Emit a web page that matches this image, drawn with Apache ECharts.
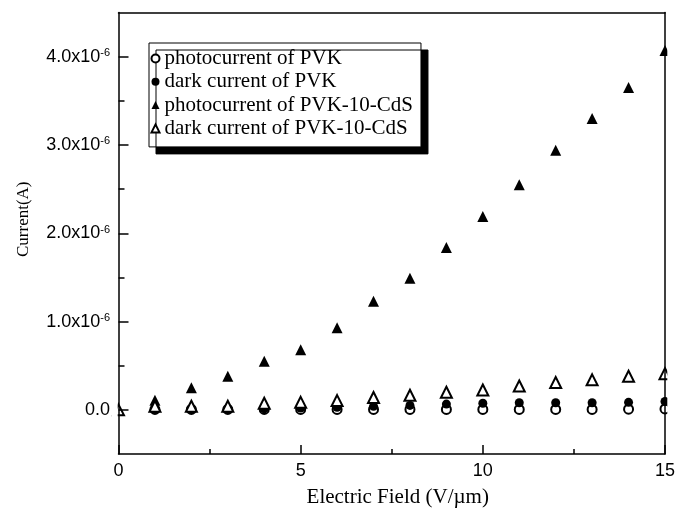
<!DOCTYPE html>
<html>
<head>
<meta charset="utf-8">
<script src="https://cdn.jsdelivr.net/npm/echarts@6/dist/echarts.min.js"></script>
<style>
  html, body { margin: 0; padding: 0; background: #fff; }
  #chart { width: 678px; height: 513px; }
</style>
</head>
<body>
<div id="chart"></div>
<script>
// Electric field (V/µm) at each measurement step
const fieldVm = [0, 1, 2, 3, 4, 5, 6, 7, 8, 9, 10, 11, 12, 13, 14, 15];

// Currents in units of 1e-6 A (null = not measured)
const photoPVK = [null, 0.005, 0.005, 0.005, 0.005, 0.005, 0.005, 0.005, 0.005, 0.005, 0.005, 0.005, 0.005, 0.005, 0.008, 0.01];
const darkPVK = [null, 0.01, 0.01, 0.01, 0.012, 0.02, 0.03, 0.04, 0.05, 0.065, 0.075, 0.08, 0.08, 0.08, 0.085, 0.095];
const photoCdS = [null, 0.11, 0.25, 0.38, 0.55, 0.68, 0.93, 1.23, 1.49, 1.84, 2.19, 2.55, 2.94, 3.30, 3.65, 4.07];
const darkCdS = [0.0, 0.04, 0.04, 0.04, 0.075, 0.085, 0.105, 0.14, 0.165, 0.2, 0.225, 0.27, 0.31, 0.34, 0.38, 0.41];

const seriesNames = [
  'photocurrent of PVK',
  'dark current of PVK',
  'photocurrent of PVK-10-CdS',
  'dark current of PVK-10-CdS'
];

// Axis ticks
const xMajorTicks = [0, 5, 10, 15];
const xMinorTicks = [2.5, 7.5, 12.5];
const yMajorTicks = [0, 1, 2, 3, 4];
const yMinorTicks = [0.5, 1.5, 2.5, 3.5];

const GRID = { left: 118.5, top: 12.5, right: 11.5, bottom: 56.5 };
const W = 678, H = 513;
const INK = '#000';
const lineStyle = { color: INK, width: 1.5 };
const frameLine = { onZero: false, lineStyle };
const hidden = { show: false };
const noLine = { show: false, onZero: false };

function pairs(values) {
  const out = [];
  fieldVm.forEach((x, i) => { if (values[i] != null) out.push([x, values[i]]); });
  return out;
}

function yLabel(v) {
  if (Math.abs(v) < 1e-9) return '{m|0.0}';
  return '{m|' + v.toFixed(1) + 'x10}{s|-6}';
}

// An axis that only carries ticks; shifted into the plot by its tick length
// so the ticks point back onto the frame (inward-facing ticks).
function tickAxis(pos, range, values, len) {
  return {
    type: 'value', min: range[0], max: range[1], position: pos, offset: -len, z: 5,
    axisLine: noLine,
    axisTick: { show: true, inside: false, length: len, customValues: values, lineStyle },
    axisLabel: hidden, splitLine: hidden
  };
}

const X_RANGE = [0, 15];
const Y_RANGE = [-0.5, 4.5];

const chart = echarts.init(document.getElementById('chart'), null, { renderer: 'canvas' });

chart.setOption({
  backgroundColor: '#fff',
  animation: false,
  grid: { left: GRID.left, top: GRID.top, right: GRID.right, bottom: GRID.bottom, show: false },
  legend: {
    orient: 'vertical',
    left: 149,
    top: 43,
    itemWidth: 8,
    itemHeight: 8,
    itemGap: 2.3,
    padding: [5, 8, 8, 1.5],
    backgroundColor: '#fff',
    borderColor: INK,
    borderWidth: 1,
    borderRadius: 0,
    shadowColor: INK,
    shadowBlur: 0,
    shadowOffsetX: 7,
    shadowOffsetY: 7,
    textStyle: { fontFamily: 'Liberation Serif', fontSize: 21, lineHeight: 21, color: INK },
    data: seriesNames
  },
  xAxis: [
    {
      type: 'value', min: X_RANGE[0], max: X_RANGE[1], position: 'bottom', z: 5,
      axisLine: frameLine,
      axisTick: hidden,
      axisLabel: { customValues: xMajorTicks, margin: 8, fontFamily: 'Liberation Sans', fontSize: 18, color: INK },
      splitLine: hidden,
      name: 'Electric Field (V/\u00B5m)',
      nameLocation: 'middle',
      nameGap: 33,
      nameTextStyle: { fontFamily: 'Liberation Serif', fontSize: 21, color: INK, padding: [0, 0, 0, 12] }
    },
    tickAxis('bottom', X_RANGE, xMajorTicks, 9),
    tickAxis('bottom', X_RANGE, xMinorTicks, 5),
    {
      type: 'value', min: X_RANGE[0], max: X_RANGE[1], position: 'top', z: 5,
      axisLine: frameLine, axisTick: hidden, axisLabel: hidden, splitLine: hidden
    }
  ],
  yAxis: [
    {
      type: 'value', min: Y_RANGE[0], max: Y_RANGE[1], position: 'left', z: 5,
      axisLine: frameLine,
      axisTick: hidden,
      axisLabel: {
        customValues: yMajorTicks,
        margin: 8.5,
        formatter: yLabel,
        rich: {
          m: { fontFamily: 'Liberation Sans', fontSize: 18, color: INK, lineHeight: 18 },
          s: { fontFamily: 'Liberation Sans', fontSize: 11, color: INK, verticalAlign: 'top', lineHeight: 11 }
        }
      },
      splitLine: hidden,
      name: 'Current(A)',
      nameLocation: 'middle',
      nameRotate: 90,
      nameGap: 86,
      nameTextStyle: { fontFamily: 'Liberation Serif', fontSize: 17, color: INK, padding: [0, 0, 0, 28] }
    },
    tickAxis('left', Y_RANGE, yMajorTicks, 10),
    tickAxis('left', Y_RANGE, yMinorTicks, 6),
    {
      type: 'value', min: Y_RANGE[0], max: Y_RANGE[1], position: 'right', z: 5,
      axisLine: frameLine, axisTick: hidden, axisLabel: hidden, splitLine: hidden
    }
  ],
  // White masks so marks sitting on the frame are cut at its edge
  graphic: [
    { type: 'rect', z: 3, silent: true, shape: { x: W - GRID.right + 0.8, y: 0, width: GRID.right, height: H - GRID.bottom - 1 }, style: { fill: '#fff' } },
    { type: 'rect', z: 3, silent: true, shape: { x: GRID.left - 7, y: GRID.top, width: 6.2, height: H - GRID.top - GRID.bottom - 1 }, style: { fill: '#fff' } }
  ],
  series: [
    {
      name: seriesNames[0], type: 'scatter', symbol: 'emptyCircle', symbolSize: 9,
      itemStyle: { color: INK, borderColor: INK, borderWidth: 1, opacity: 1 },
      data: pairs(photoPVK)
    },
    {
      name: seriesNames[1], type: 'scatter', symbol: 'circle', symbolSize: 9,
      itemStyle: { color: INK, opacity: 1 },
      data: pairs(darkPVK)
    },
    {
      name: seriesNames[2], type: 'scatter', symbol: 'triangle', symbolSize: 11,
      itemStyle: { color: INK, opacity: 1 },
      data: pairs(photoCdS)
    },
    {
      name: seriesNames[3], type: 'scatter', symbol: 'emptyTriangle', symbolSize: 11,
      itemStyle: { color: INK, borderColor: INK, borderWidth: 1, opacity: 1 },
      data: pairs(darkCdS)
    }
  ]
});
</script>
</body>
</html>
